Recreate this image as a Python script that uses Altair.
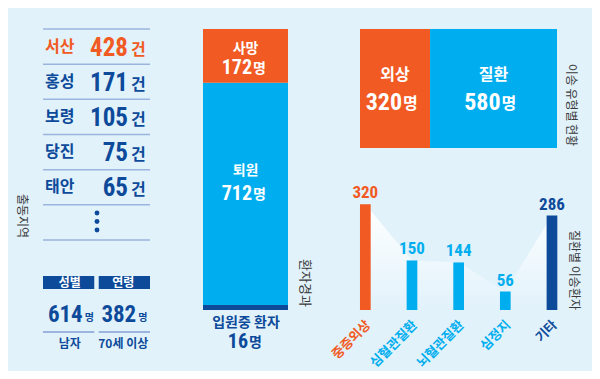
import altair as alt
import pandas as pd
import numpy as np

# ---------------- data ----------------
regions = ["서산", "홍성", "보령", "당진", "태안"]
region_counts = [428, 171, 105, 75, 65]
more_row = "⋮"
more_dots = [-1, 0, 1]
stat_heads = ["성별", "연령"]
stat_values = [614, 382]
stat_labels = ["남자", "70세 이상"]
outcome_names = ["입원중 환자", "퇴원", "사망"]
outcome_values = [16, 712, 172]
type_names = ["외상", "질환"]
type_values = [320, 580]
disease_names = ["중증외상", "심혈관질환", "뇌혈관질환", "심정지", "기타"]
disease_values = [320, 150, 144, 56, 286]
side_titles = ["출동지역", "환자경과", "이송 유형별 현황", "질환별 이송환자"]
unit_case = "건"
unit_person = "명"

# ---------------- style ----------------
ORANGE = "#F15A22"
BLUE = "#00AEEF"
NAVY = "#0D4A9A"
BG = "#E1F2FB"
LINE = "#9BB5DF"
GRAY = "#3A3A3A"
KFONT = "Noto Sans CJK KR"
NFONT = "Liberation Sans Narrow, Roboto Condensed, Roboto, sans-serif"

layers = []

def side_title(t, x, y, size):
    return alt.Chart(pd.DataFrame({"t": [t]})).mark_text(
        angle=90, fontSize=size, color=GRAY, font=KFONT, align="center", baseline="middle"
    ).encode(x=alt.value(x), y=alt.value(y), text="t:N")

# ---------------- panel 1: region list ----------------
rows = regions + [more_row]
df_rows = pd.DataFrame({"row": rows, "rank": list(range(len(rows)))})
df_reg = pd.DataFrame({"row": regions, "count": region_counts, "rank": list(range(len(regions)))})
yrow = alt.Scale(domain=rows, range=[21, 232], paddingInner=0, paddingOuter=0)
region_color = alt.when(alt.datum.rank == 0).then(alt.value(ORANGE)).otherwise(alt.value(NAVY))

layers.append(alt.Chart(df_rows).mark_rule(color=LINE, strokeWidth=1.5).encode(
    y=alt.Y("row:N", scale=yrow, axis=None, bandPosition=0),
    x=alt.value(35), x2=alt.value(142)))
layers.append(alt.Chart(df_rows.tail(1)).mark_rule(color=LINE, strokeWidth=1.5).encode(
    y=alt.Y("row:N", scale=yrow, axis=None, bandPosition=1),
    x=alt.value(35), x2=alt.value(142)))
layers.append(alt.Chart(df_reg).mark_text(
    font=KFONT, fontSize=16, fontWeight="bold", align="left", baseline="middle").encode(
    y=alt.Y("row:N", scale=yrow, axis=None), x=alt.value(37), text="row:N", color=region_color))
layers.append(alt.Chart(df_reg).mark_text(
    font=NFONT, fontSize=25, fontWeight="bold", align="right", baseline="alphabetic", dy=9).encode(
    y=alt.Y("row:N", scale=yrow, axis=None), x=alt.value(120), text="count:Q", color=region_color))
layers.append(alt.Chart(df_reg).mark_text(
    font=KFONT, fontSize=16, fontWeight="bold", align="left", baseline="alphabetic", dy=8).encode(
    y=alt.Y("row:N", scale=yrow, axis=None), x=alt.value(123), text=alt.value(unit_case), color=region_color))
df_dots = pd.DataFrame({"k": more_dots})
layers.append(alt.Chart(df_dots).mark_circle(size=24, opacity=1, color=NAVY).encode(
    y=alt.Y("k:Q", scale=alt.Scale(domain=[-1, 1], range=[205, 222], nice=False, zero=False), axis=None),
    x=alt.value(89)))

df_stat = pd.DataFrame({"head": stat_heads, "value": stat_values, "label": stat_labels})
xstat = alt.Scale(domain=stat_heads, range=[35, 142], paddingInner=0.08, paddingOuter=0)
xs = alt.X("head:N", scale=xstat, axis=None)
layers.append(alt.Chart(df_stat).mark_bar(color=NAVY).encode(x=xs, y=alt.value(268), y2=alt.value(281)))
layers.append(alt.Chart(df_stat).mark_text(color="white", fontSize=12, fontWeight="bold", font=KFONT).encode(
    x=xs, y=alt.value(274.5), text="head:N"))
layers.append(alt.Chart(df_stat).mark_text(color=NAVY, fontSize=23, fontWeight="bold", font=NFONT,
    align="right", baseline="alphabetic", dx=13).encode(x=xs, y=alt.value(314), text="value:Q"))
layers.append(alt.Chart(df_stat).mark_text(color=NAVY, fontSize=10, fontWeight="bold", font=KFONT,
    align="left", baseline="alphabetic", dx=15).encode(x=xs, y=alt.value(313), text=alt.value(unit_person)))
layers.append(alt.Chart(df_stat).mark_bar(color=LINE).encode(x=xs, y=alt.value(323), y2=alt.value(325)))
layers.append(alt.Chart(df_stat).mark_text(color=NAVY, fontSize=12, fontWeight="bold", font=KFONT).encode(
    x=xs, y=alt.value(336), text="label:N"))
layers.append(side_title(side_titles[0], 14, 208, 12))

# ---------------- panel 2: patient outcome stacked bar ----------------
df_out = pd.DataFrame({"name": outcome_names, "value": outcome_values})
df_out["end"] = np.cumsum(df_out["value"])
df_out["start"] = df_out["end"] - df_out["value"]
df_out["mid"] = (df_out["start"] + df_out["end"]) / 2
yout = alt.Scale(domain=[0, int(df_out["end"].max())], range=[302, 21], nice=False)
layers.append(alt.Chart(df_out).mark_bar().encode(
    x=alt.value(195), x2=alt.value(280),
    y=alt.Y("start:Q", scale=yout, axis=None), y2="end:Q",
    color=alt.Color("name:N", scale=alt.Scale(domain=outcome_names, range=[NAVY, BLUE, ORANGE]), legend=None)))
label_dy = {"퇴원": (-23, 6), "사망": (-7, 18)}
for nm, (dname, dnum) in label_dy.items():
    sub = df_out[df_out["name"] == nm]
    layers.append(alt.Chart(sub).mark_text(color="white", fontSize=14, fontWeight="bold", font=KFONT,
        baseline="middle", dy=dname).encode(x=alt.value(237.5), y=alt.Y("mid:Q", scale=yout, axis=None), text="name:N"))
    layers.append(alt.Chart(sub).mark_text(color="white", fontSize=20, fontWeight="bold", font=NFONT,
        align="right", baseline="alphabetic", dy=dnum).encode(x=alt.value(244), y=alt.Y("mid:Q", scale=yout, axis=None), text="value:Q"))
    layers.append(alt.Chart(sub).mark_text(color="white", fontSize=14, fontWeight="bold", font=KFONT,
        align="left", baseline="alphabetic", dy=dnum - 1).encode(x=alt.value(245), y=alt.Y("mid:Q", scale=yout, axis=None), text=alt.value(unit_person)))
bottom = df_out.head(1)
layers.append(alt.Chart(bottom).mark_text(color=NAVY, fontSize=14, fontWeight="bold", font=KFONT,
    baseline="middle", dy=13).encode(x=alt.value(238), y=alt.Y("start:Q", scale=yout, axis=None), text="name:N"))
layers.append(alt.Chart(bottom).mark_text(color=NAVY, fontSize=20, fontWeight="bold", font=NFONT,
    align="right", baseline="alphabetic", dy=38).encode(x=alt.value(240), y=alt.Y("start:Q", scale=yout, axis=None), text="value:Q"))
layers.append(alt.Chart(bottom).mark_text(color=NAVY, fontSize=14, fontWeight="bold", font=KFONT,
    align="left", baseline="alphabetic", dy=37).encode(x=alt.value(241), y=alt.Y("start:Q", scale=yout, axis=None), text=alt.value(unit_person)))
layers.append(side_title(side_titles[1], 297, 275, 13))

# ---------------- panel 3: transport type ----------------
df_type = pd.DataFrame({"name": type_names, "value": type_values})
df_type["end"] = np.cumsum(df_type["value"])
df_type["start"] = df_type["end"] - df_type["value"]
df_type["mid"] = (df_type["start"] + df_type["end"]) / 2
xt = alt.Scale(domain=[0, int(df_type["end"].max())], range=[352, 549], nice=False)
layers.append(alt.Chart(df_type).mark_bar().encode(
    x=alt.X("start:Q", scale=xt, axis=None), x2="end:Q",
    y=alt.value(21), y2=alt.value(140),
    color=alt.Color("name:N", scale=alt.Scale(domain=type_names, range=[ORANGE, BLUE]), legend=None)))
layers.append(alt.Chart(df_type).mark_text(color="white", fontSize=16, fontWeight="bold", font=KFONT,
    baseline="middle").encode(x=alt.X("mid:Q", scale=xt, axis=None), y=alt.value(67), text="name:N"))
layers.append(alt.Chart(df_type).mark_text(color="white", fontSize=24, fontWeight="bold", font=NFONT,
    align="right", baseline="alphabetic", dx=7).encode(x=alt.X("mid:Q", scale=xt, axis=None), y=alt.value(102), text="value:Q"))
layers.append(alt.Chart(df_type).mark_text(color="white", fontSize=16, fontWeight="bold", font=KFONT,
    align="left", baseline="alphabetic", dx=8).encode(x=alt.X("mid:Q", scale=xt, axis=None), y=alt.value(101), text=alt.value(unit_person)))
layers.append(side_title(side_titles[2], 563, 97, 12))

# ---------------- panel 4: disease bars ----------------
df_dis = pd.DataFrame({"name": disease_names, "value": disease_values})
xd = alt.Scale(type="band", domain=disease_names, range=[334, 567.3], paddingInner=0, paddingOuter=0)
yd = alt.Scale(domain=[0, max(disease_values)], range=[302, 196.3], nice=False)
xdis = alt.X("name:N", scale=xd, axis=None, sort=None)
ydis = alt.Y("value:Q", scale=yd, axis=None)
dcolor = alt.Color("name:N", scale=alt.Scale(domain=disease_names, range=[ORANGE, BLUE, BLUE, BLUE, NAVY]), legend=None)
grad = alt.Gradient(gradient="linear",
                    stops=[alt.GradientStop(color="#FFFFFF", offset=0), alt.GradientStop(color=BG, offset=1)],
                    x1=0, x2=0, y1=0, y2=1)
layers.append(alt.Chart(df_dis).mark_area(color=grad, interpolate="linear").encode(x=xdis, y=ydis))
layers.append(alt.Chart(df_dis).mark_bar(size=10.7).encode(x=xdis, y=ydis, color=dcolor))
layers.append(alt.Chart(df_dis).mark_text(font=NFONT, fontSize=17, fontWeight="bold",
    baseline="alphabetic", dy=-6).encode(x=xdis, y=ydis, text="value:Q", color=dcolor))
layers.append(alt.Chart(df_dis).mark_text(font=KFONT, fontSize=13, fontWeight="bold", angle=315,
    align="right", baseline="middle", xOffset=3).encode(x=xdis, y=alt.value(315), text="name:N", color=dcolor))
layers.append(side_title(side_titles[3], 566, 262, 12))

chart = alt.layer(*layers).resolve_scale(
    x="independent", y="independent", color="independent"
).properties(
    width=584, height=363, background=BG, padding=0,
    autosize=alt.AutoSizeParams(type="none")
).configure_view(stroke=None)

chart.save("out.html", embed_options={"renderer": "svg", "actions": False})
